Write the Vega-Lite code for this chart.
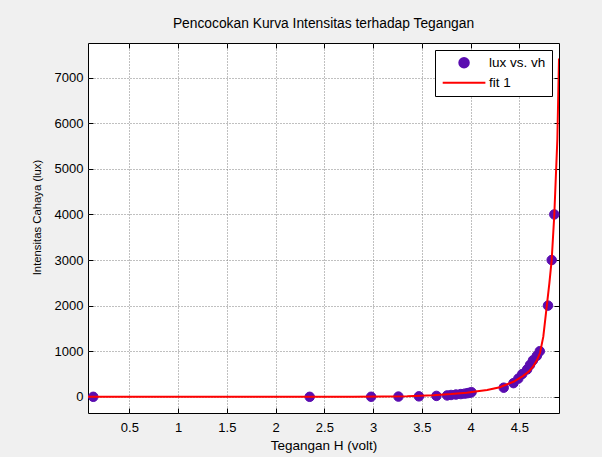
{
  "$schema": "https://vega.github.io/schema/vega-lite/v6.json",
  "width": 471,
  "height": 370,
  "autosize": {"type": "none"},
  "padding": {"left": 88, "top": 43, "right": 43, "bottom": 44},
  "background": "#f0f0f0",
  "title": {
    "text": "Pencocokan Kurva Intensitas terhadap Tegangan",
    "font": "Liberation Sans",
    "fontSize": 13.8,
    "fontWeight": "normal",
    "color": "#000",
    "anchor": "middle",
    "offset": 12
  },
  "config": {
    "view": {"stroke": "#000", "strokeWidth": 1, "fill": "#ffffff"},
    "axis": {
      "labelFont": "Liberation Sans",
      "titleFont": "Liberation Sans",
      "labelFontSize": 13,
      "titleFontSize": 13.5,
      "labelColor": "#000",
      "titleColor": "#000",
      "titleFontWeight": "normal",
      "domain": false,
      "tickColor": "#000",
      "tickSize": -5,
      "gridColor": "#808080",
      "gridDash": [1, 2],
      "gridOpacity": 1,
      "gridWidth": 1
    }
  },
  "datasets": {
    "pts": [
      {"vh": 0.13, "lux": 0},
      {"vh": 2.35, "lux": 0},
      {"vh": 2.98, "lux": 1},
      {"vh": 3.26, "lux": 5},
      {"vh": 3.47, "lux": 10},
      {"vh": 3.65, "lux": 20},
      {"vh": 3.76, "lux": 30},
      {"vh": 3.8, "lux": 40},
      {"vh": 3.85, "lux": 50},
      {"vh": 3.9, "lux": 60},
      {"vh": 3.94, "lux": 70},
      {"vh": 3.97, "lux": 80},
      {"vh": 3.99, "lux": 90},
      {"vh": 4.01, "lux": 100},
      {"vh": 4.34, "lux": 200},
      {"vh": 4.44, "lux": 300},
      {"vh": 4.49, "lux": 400},
      {"vh": 4.53, "lux": 500},
      {"vh": 4.58, "lux": 600},
      {"vh": 4.61, "lux": 700},
      {"vh": 4.64, "lux": 800},
      {"vh": 4.68, "lux": 900},
      {"vh": 4.71, "lux": 1000},
      {"vh": 4.794, "lux": 2000},
      {"vh": 4.832, "lux": 3000},
      {"vh": 4.859, "lux": 4000}
    ],
    "fit": [
      {"vh": 0.076, "lux": 0},
      {"vh": 1.0, "lux": 0},
      {"vh": 2.0, "lux": 0},
      {"vh": 2.8, "lux": 2},
      {"vh": 3.1, "lux": 5},
      {"vh": 3.35, "lux": 12},
      {"vh": 3.62, "lux": 35},
      {"vh": 3.8, "lux": 60},
      {"vh": 3.96, "lux": 90},
      {"vh": 4.07, "lux": 120},
      {"vh": 4.17, "lux": 150},
      {"vh": 4.3, "lux": 210},
      {"vh": 4.44, "lux": 330},
      {"vh": 4.54, "lux": 460},
      {"vh": 4.6, "lux": 560},
      {"vh": 4.64, "lux": 660},
      {"vh": 4.68, "lux": 800},
      {"vh": 4.712, "lux": 960},
      {"vh": 4.746, "lux": 1320},
      {"vh": 4.781, "lux": 1980},
      {"vh": 4.808, "lux": 2490},
      {"vh": 4.832, "lux": 3000},
      {"vh": 4.859, "lux": 4000},
      {"vh": 4.89, "lux": 5640},
      {"vh": 4.907, "lux": 7420}
    ]
  },
  "layer": [
    {
      "data": {"name": "pts"},
      "mark": {"type": "point", "filled": true, "size": 90, "opacity": 1, "strokeWidth": 1},
      "encoding": {
        "x": {
          "field": "vh", "type": "quantitative",
          "scale": {"domain": [0.076, 4.907], "nice": false, "zero": false},
          "axis": {
            "orient": "bottom",
            "title": "Tegangan H (volt)",
            "values": [0.5, 1, 1.5, 2, 2.5, 3, 3.5, 4, 4.5],
            "format": ".1~f",
            "labelPadding": 13,
            "titlePadding": 4,
            "grid": true
          }
        },
        "y": {
          "field": "lux", "type": "quantitative",
          "scale": {"domain": [-355, 7760], "nice": false, "zero": false},
          "axis": {
            "orient": "left",
            "title": "Intensitas Cahaya (lux)",
            "titleFontSize": 11.3,
            "titleY": 174,
            "values": [0, 1000, 2000, 3000, 4000, 5000, 6000, 7000],
            "format": "d",
            "labelPadding": 10,
            "titlePadding": 12,
            "grid": true
          }
        },
        "color": {
          "datum": "lux vs. vh",
          "type": "nominal",
          "scale": {"domain": ["lux vs. vh", "fit 1"], "range": ["#5a0cb0", "#ff0000"]},
          "legend": {
            "title": null, "orient": "top-right", "offset": 7,
            "fillColor": "#ffffff", "strokeColor": "#000000", "padding": 6,
            "symbolSize": 90, "symbolStrokeWidth": 2, "symbolOffset": 16.3,
            "labelFont": "Liberation Sans", "labelFontSize": 13.5, "labelColor": "#000",
            "labelOffset": 18.3, "rowPadding": 3
          }
        },
        "stroke": {
          "datum": "lux vs. vh",
          "type": "nominal",
          "scale": {"domain": ["lux vs. vh", "fit 1"], "range": ["#5a0cb0", "#ff0000"]},
          "legend": {
            "title": null, "orient": "top-right", "offset": 7,
            "fillColor": "#ffffff", "strokeColor": "#000000", "padding": 6,
            "symbolSize": 90, "symbolStrokeWidth": 2, "symbolOffset": 16.3,
            "labelFont": "Liberation Sans", "labelFontSize": 13.5, "labelColor": "#000",
            "labelOffset": 18.3, "rowPadding": 3
          }
        },
        "shape": {
          "datum": "lux vs. vh",
          "type": "nominal",
          "scale": {"domain": ["lux vs. vh", "fit 1"], "range": ["circle", "M-4.5,0H4.5"]},
          "legend": {
            "title": null, "orient": "top-right", "offset": 7,
            "fillColor": "#ffffff", "strokeColor": "#000000", "padding": 6,
            "symbolSize": 90, "symbolStrokeWidth": 2, "symbolOffset": 16.3,
            "labelFont": "Liberation Sans", "labelFontSize": 13.5, "labelColor": "#000",
            "labelOffset": 18.3, "rowPadding": 3
          }
        }
      }
    },
    {
      "data": {"name": "fit"},
      "mark": {"type": "line", "strokeWidth": 2, "clip": true, "color": "#ff0000"},
      "encoding": {
        "x": {
          "field": "vh", "type": "quantitative",
          "axis": {
            "orient": "top", "labels": false, "title": null, "grid": false,
            "values": [0.5, 1, 1.5, 2, 2.5, 3, 3.5, 4, 4.5]
          }
        },
        "y": {
          "field": "lux", "type": "quantitative",
          "axis": {
            "orient": "right", "labels": false, "title": null, "grid": false,
            "values": [0, 1000, 2000, 3000, 4000, 5000, 6000, 7000]
          }
        }
      }
    }
  ],
  "resolve": {"axis": {"x": "independent", "y": "independent"}}
}
